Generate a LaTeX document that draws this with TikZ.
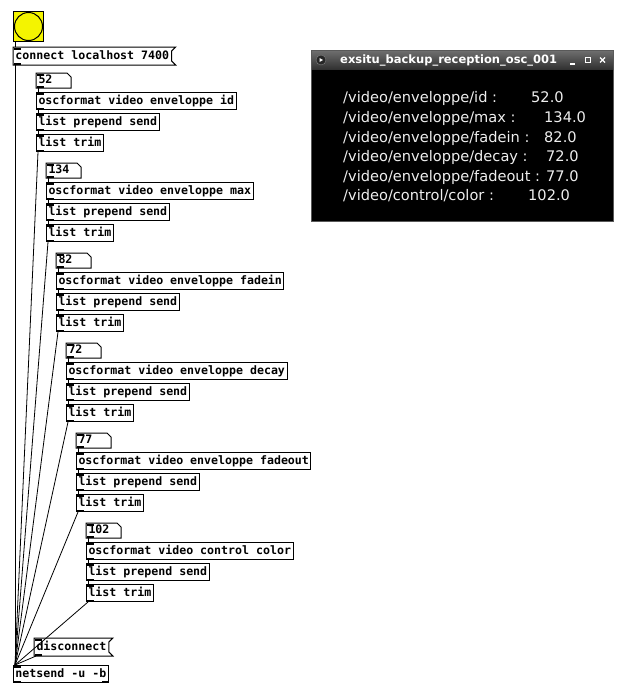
\documentclass[tikz,border=0pt]{standalone}
\usepackage{fontspec}
\usepackage{tikz}
\newfontfamily\pdfont{DejaVu Sans Mono}
\newfontfamily\wmfont{DejaVu Sans}
\definecolor{bangyellow}{HTML}{F4F400}
\definecolor{titlegray}{HTML}{2E2E2E}
\definecolor{wintextcolor}{HTML}{EEEEEE}

\tikzset{
  wire/.style={line width=1pt},
  longwire/.style={line width=0.8pt},
  ports/.style={path picture={%
    \fill (path picture bounding box.north west) rectangle ++(7pt,-2pt);%
    \fill (path picture bounding box.south west) rectangle ++(7pt,2pt);}},
  rightin/.style={append after command={%
    [fill] (\tikzlastnode.north east) rectangle ++(-7pt,-2pt)}},
  pdbox/.style={anchor=north west, inner xsep=2pt, inner ysep=0pt,
    minimum height=17pt, text height=8.5pt, text depth=2.2pt,
    line width=1pt, ports,
    font={\pdfont\bfseries\fontsize{11.6pt}{13pt}\selectfont}},
  pdobj/.style={pdbox, draw},
  pdmsg/.style={pdbox},
  pdnum/.style={pdbox, minimum height=14pt, text width=30pt, align=left},
  bangbox/.style={draw, line width=1pt, fill=bangyellow, anchor=north west,
    minimum size=30pt, inner sep=0pt, ports},
  wintext/.style={anchor=mid west, inner sep=0pt, text=wintextcolor,
    font={\wmfont\fontsize{14.6pt}{16pt}\selectfont}},
}

% outline of a message box, flag on its right side
\newcommand{\msgflag}[1]{%
  \draw[line width=1pt] (#1.north west) -- ([xshift=4pt]#1.north east)
    -- ([yshift=-4pt]#1.north east) -- ([yshift=4pt]#1.south east)
    -- ([xshift=4pt]#1.south east) -- (#1.south west) -- cycle;}
% outline of a number box, corner cut at the top right
\newcommand{\atomflag}[1]{%
  \draw[line width=1pt] (#1.north west) -- ([xshift=-4pt]#1.north east)
    -- ([yshift=-4pt]#1.north east) -- (#1.south east)
    -- (#1.south west) -- cycle;}

\begin{document}
\begin{tikzpicture}[x=1pt,y=-1pt]%
\useasboundingbox (0,0) rectangle (630,691);%
% patch
\node[bangbox] (bng) at (13,11) {};%
\draw[line width=1pt] (bng.center) circle (14pt);%
\node[pdmsg] (conn) at (13,47) {connect localhost 7400};%
\msgflag{conn}%
\node[pdmsg] (disc) at (34,638) {disconnect};%
\msgflag{disc}%
\node[pdobj, rightin] (net) at (13,665) {netsend -u -b};%
\fill (net.south east) rectangle ++(-7pt,2pt);%
\draw[wire] ([xshift=2pt]bng.south west) -- ([xshift=2pt]conn.north west);%
\draw[wire] ([xshift=2pt]conn.south west) -- ([xshift=2pt]net.north west);%
\draw[longwire] ([xshift=2pt]disc.south west) -- ([xshift=2pt]net.north west);%
\foreach \i/\val/\osc in {1/52/video enveloppe id, 2/134/video enveloppe max,
  3/82/video enveloppe fadein, 4/72/video enveloppe decay,
  5/77/video enveloppe fadeout, 6/102/video control color}{%
  \pgfmathsetmacro{\xo}{26+10*\i}%
  \pgfmathsetmacro{\yo}{-17+90*\i}%
  \node[pdnum] (num\i) at (\xo,\yo) {\val};%
  \atomflag{num\i}%
  \node[pdobj] (fmt\i) at (\xo,\yo+19) {oscformat \osc};%
  \node[pdobj, rightin] (pre\i) at (\xo,\yo+40) {list prepend send};%
  \node[pdobj] (trim\i) at (\xo,\yo+61) {list trim};%
  \draw[wire] ([xshift=2pt]num\i.south west) -- ([xshift=2pt]fmt\i.north west);%
  \draw[wire] ([xshift=2pt]fmt\i.south west) -- ([xshift=2pt]pre\i.north west);%
  \draw[wire] ([xshift=2pt]pre\i.south west) -- ([xshift=2pt]trim\i.north west);%
  \draw[longwire] ([xshift=2pt]trim\i.south west) -- ([xshift=2pt]net.north west);%
}%
% receiving window
\fill[gray!70!black] (311,50) rectangle (614,222);%
\shade[top color=titlegray!70, bottom color=titlegray] (312,51) rectangle (613,70);%
\fill[black] (312,70) rectangle (613,221);%
\node[circle, fill=black!85, draw=gray, minimum size=10pt, inner sep=0pt] (wicon) at (321,60) {};%
\fill[white] ([xshift=-1.5pt,yshift=2pt]wicon.center) -- ++(3.5pt,-2pt) -- ++(-3.5pt,-2pt) -- cycle;%
\node[anchor=mid west, inner sep=0pt, text=white,
  font={\wmfont\bfseries\fontsize{11.5pt}{13pt}\selectfont}] (wtitle) at (340,61) {exsitu\_backup\_reception\_osc\_001};%
\draw[white, line width=1.5pt] (570,64) -- (575,64);%
\draw[white, line width=1pt] (585,57.5) rectangle (590,62.5);%
\draw[white, line width=1.3pt] (600,57.5) -- (605,62.5) (600,62.5) -- (605,57.5);%
\node[wintext] (lab1) at (343,100) {/video/enveloppe/id :};%
\node[wintext] (val1) at (531,100) {52.0};%
\node[wintext] (lab2) at (343,120) {/video/enveloppe/max :};%
\node[wintext] (val2) at (544,120) {134.0};%
\node[wintext] (lab3) at (343,140) {/video/enveloppe/fadein :};%
\node[wintext] (val3) at (544,140) {82.0};%
\node[wintext] (lab4) at (343,159) {/video/enveloppe/decay :};%
\node[wintext] (val4) at (546,159) {72.0};%
\node[wintext] (lab5) at (343,179) {/video/enveloppe/fadeout :};%
\node[wintext] (val5) at (546,179) {77.0};%
\node[wintext] (lab6) at (343,198) {/video/control/color :};%
\node[wintext] (val6) at (528,198) {102.0};%
\end{tikzpicture}
\end{document}
